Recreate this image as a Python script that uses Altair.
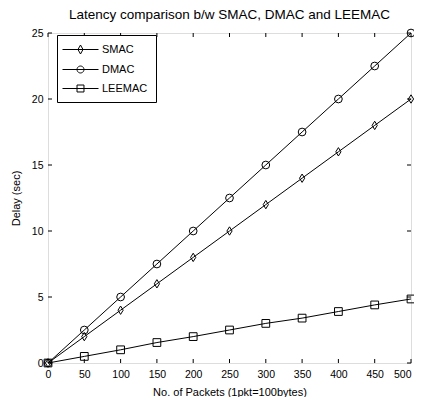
import math
import altair as alt
import pandas as pd

packets = [0, 50, 100, 150, 200, 250, 300, 350, 400, 450, 500]
smac = [0, 2, 4, 6, 8, 10, 12, 14, 16, 18, 20]
dmac = [0, 2.5, 5, 7.5, 10, 12.5, 15, 17.5, 20, 22.5, 25]
leemac = [0, 0.5, 1.0, 1.55, 2.0, 2.5, 3.0, 3.4, 3.9, 4.4, 4.85]
names = ["SMAC", "DMAC", "LEEMAC"]
xticks = [0, 50, 100, 150, 200, 250, 300, 350, 400, 450, 500]
yticks = [0, 5, 10, 15, 20, 25]

rows = []
for name, vals in zip(names, [smac, dmac, leemac]):
    for p, v in zip(packets, vals):
        rows.append({"packets": p, "delay": v, "series": name})
df = pd.DataFrame(rows)
xt = pd.DataFrame({"packets": xticks})
yt = pd.DataFrame({"delay": yticks})

W, H = 363, 330
FONT = "Liberation Sans"

xs = alt.Scale(domain=[0, 500], nice=False, zero=False)
ys = alt.Scale(domain=[0, 25], nice=False, zero=False)

xaxis = alt.Axis(values=xticks, tickSize=0, labelPadding=6, domain=False, grid=False,
                 labelFontSize=10.5, labelFont=FONT, titleFont=FONT, titleFontSize=11,
                 titleFontWeight="normal", titlePadding=7, labelColor="black",
                 titleColor="black", labelFlush=False,
                 labelAlign=alt.ExprRef("datum.value >= 500 ? 'right' : 'center'"),
                 title="No. of Packets (1pkt=100bytes)")
yaxis = alt.Axis(values=yticks, tickSize=0, labelPadding=5, domain=False, grid=False,
                 labelFontSize=10.5, labelFont=FONT, titleFont=FONT, titleFontSize=11,
                 titleFontWeight="normal", titlePadding=10, labelColor="black",
                 titleColor="black", labelFlush=False, title="Delay (sec)")

def X():
    return alt.X("packets:Q", scale=xs, axis=xaxis)

def Y():
    return alt.Y("delay:Q", scale=ys, axis=yaxis)

# marker path for the plot
diamond = "M0,-1L0.62,0L0,1L-0.62,0Z"

def poly_circle(cx, r, n=20):
    pts = [(cx + r * math.cos(2 * math.pi * i / n), r * math.sin(2 * math.pi * i / n)) for i in range(n)]
    return "M" + "L".join(f"{x:.3f},{y:.3f}" for x, y in pts) + "Z"

# legend symbols: 12px unit box (6px per unit); line from -1.5 to 4.5, marker at 1.5
mc = 1.5
leg_line = "M-1.5,0L4.5,0"
leg_paths = [
    leg_line + f"M{mc},-0.75L{mc+0.42},0L{mc},0.75L{mc-0.42},0Z",
    leg_line + poly_circle(mc, 0.58),
    leg_line + f"M{mc-0.58},-0.58L{mc+0.58},-0.58L{mc+0.58},0.58L{mc-0.58},0.58Z",
]

base = alt.Chart(df)

lines = base.mark_line(strokeWidth=1, color="black").encode(
    x=X(), y=Y(), detail="series:N",
)

def pts(name, shape, size):
    return base.transform_filter(alt.datum.series == name).mark_point(
        shape=shape, size=size, filled=False, color="black", strokeWidth=1, opacity=1
    ).encode(x=X(), y=Y())

p1 = pts("SMAC", diamond, 70)
p2 = pts("DMAC", "circle", 60)
p3 = pts("LEEMAC", "square", 60)

legend_layer = base.transform_filter("false").mark_point(
    filled=False, color="black", strokeWidth=1, size=144, opacity=1
).encode(
    x=X(), y=Y(),
    shape=alt.Shape("series:N", scale=alt.Scale(domain=names, range=leg_paths),
                    legend=alt.Legend(orient="none", legendX=9, legendY=2, title=None,
                                      strokeColor="black", fillColor="white", padding=8,
                                      labelFontSize=11, labelFont=FONT, labelColor="black",
                                      symbolSize=144,
                                      symbolStrokeWidth=1, symbolStrokeColor="black",
                                      symbolFillColor="transparent",
                                      rowPadding=7, labelOffset=24)),
)

tick_len = 4
bt = alt.Chart(xt).mark_rule(color="black", strokeWidth=1).encode(
    x=X(), y=alt.value(H), y2=alt.value(H - tick_len))
tt = alt.Chart(xt).mark_rule(color="black", strokeWidth=1).encode(
    x=X(), y=alt.value(0), y2=alt.value(tick_len))
lt = alt.Chart(yt).mark_rule(color="black", strokeWidth=1).encode(
    y=Y(), x=alt.value(0), x2=alt.value(tick_len))
rt = alt.Chart(yt).mark_rule(color="black", strokeWidth=1).encode(
    y=Y(), x=alt.value(W), x2=alt.value(W - tick_len))

chart = alt.layer(lines, bt, tt, lt, rt, p1, p2, p3, legend_layer).properties(
    width=W, height=H,
    title=alt.Title("Latency comparison b/w SMAC, DMAC and LEEMAC", fontSize=13.5,
                    fontWeight="normal", font=FONT, color="black", offset=6),
    autosize=alt.AutoSizeParams(type="none"),
    padding={"left": 40, "top": 25, "right": 3, "bottom": 34},
).configure_view(stroke="black", strokeWidth=1).configure(background="white")

chart.save("out.html", embed_options={"renderer": "svg", "actions": False})
